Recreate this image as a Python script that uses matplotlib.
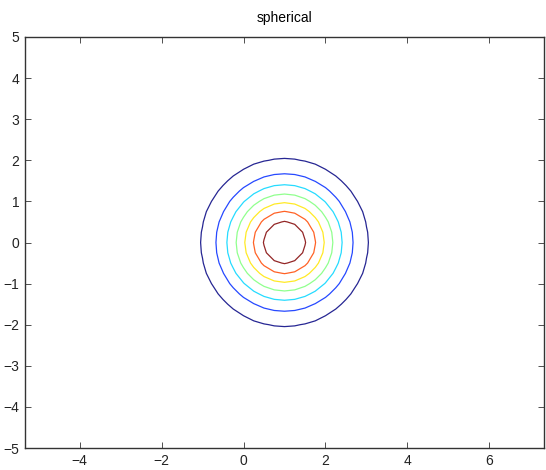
import numpy as np
import matplotlib
matplotlib.use("Agg")
import matplotlib.pyplot as plt

plt.rcParams['font.family'] = ['Liberation Sans', 'DejaVu Sans']

# spherical gaussian: mean and (isotropic) variance
mean = [1.0, 0.0]
variance = 1.0
# contour levels (fraction of peak)
levels = [0.125, 0.25, 0.375, 0.5, 0.625, 0.75, 0.875]
xticks = [-4, -2, 0, 2, 4, 6]
yticks = [-5, -4, -3, -2, -1, 0, 1, 2, 3, 4, 5]

# coarse grid, like the original
x = np.arange(-5, 7.01, 0.25)
y = np.arange(-5, 5.01, 0.25)
X, Y = np.meshgrid(x, y)
Z = np.exp(-((X - mean[0]) ** 2 + (Y - mean[1]) ** 2) / (2 * variance))

fig = plt.figure(figsize=(5.46, 4.70), dpi=100)
ax = fig.add_axes([25 / 546, (470 - 448) / 470, (544 - 25) / 546, (448 - 37) / 470])
ax.contour(X, Y, Z, levels=levels, cmap='jet', linewidths=0.9, alpha=0.85)

ax.set_xlim(-5.33, 7.33)
ax.set_ylim(-5, 5)
ax.set_xticks(xticks)
ax.set_yticks(yticks)
ax.set_xticklabels([str(t).replace('-', '\u2212') for t in xticks])
ax.set_yticklabels([str(t).replace('-', '\u2212') for t in yticks])
ax.tick_params(direction='in', length=4, width=0.6, labelsize=10, pad=4,
               top=True, right=True, colors='#333333', labelcolor='#222222')
for s in ax.spines.values():
    s.set_linewidth(1.0)
    s.set_color('#333333')
ax.set_title('spherical', fontsize=10, pad=11)

plt.savefig('out.png', dpi=100)
